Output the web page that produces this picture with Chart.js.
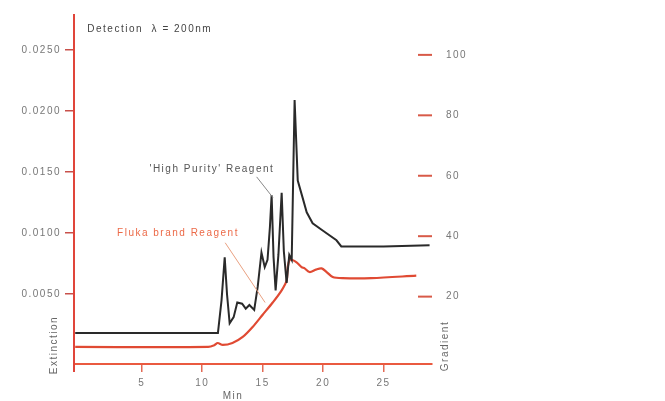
<!DOCTYPE html>
<html>
<head>
<meta charset="utf-8">
<script src="https://cdn.jsdelivr.net/npm/chart.js@4.4.1/dist/chart.umd.min.js"></script>
<style>
  html, body { margin: 0; padding: 0; background: #fff; overflow: hidden; }
  #wrap { width: 665px; height: 401px; }
</style>
</head>
<body>
<div id="wrap"><canvas id="grafico"></canvas></div>
<script>
const tempoPuro = [-0.5, 11.3, 11.6, 11.86, 12.05, 12.27, 12.6, 12.9, 13.3, 13.6, 13.9, 14.3, 14.59, 14.9, 15.17, 15.4, 15.6, 15.74, 15.9, 16.07, 16.3, 16.57, 16.75, 16.98, 17.2, 17.4, 17.64, 17.9, 18.3, 18.64, 19.13, 19.96, 21.1, 21.5, 25, 28.8];
const extPuro = [0.0018, 0.0018, 0.0045, 0.0080, 0.0050, 0.0026, 0.0031, 0.0043, 0.0042, 0.0038, 0.0041, 0.0037, 0.0056, 0.0084, 0.0072, 0.0078, 0.0105, 0.0131, 0.0080, 0.0053, 0.0082, 0.0133, 0.0085, 0.0059, 0.0082, 0.0078, 0.0209, 0.0143, 0.0129, 0.0117, 0.0108, 0.0102, 0.0094, 0.0089, 0.0089, 0.0090];

const tempoFluka = [-0.5, 10.5, 11.0, 11.28, 11.7, 12.5, 13.35, 14.17, 15.0, 15.83, 16.57, 16.98, 17.07, 17.23, 17.4, 17.8, 18.22, 18.47, 18.88, 19.4, 19.87, 20.29, 20.79, 21.6, 24, 27.7];
const extFluka = [0.00066, 0.00066, 0.0008, 0.00098, 0.00082, 0.00098, 0.00148, 0.0023, 0.0033, 0.0043, 0.0053, 0.0061, 0.0072, 0.0078, 0.0078, 0.0076, 0.0072, 0.0071, 0.0068, 0.0070, 0.0071, 0.0068, 0.0064, 0.0063, 0.0063, 0.0065];

const ticksTempo = [5, 10, 15, 20, 25];
const ticksExt = [0.005, 0.010, 0.015, 0.020, 0.025];
const ticksGrad = [20, 40, 60, 80, 100];

const fonte = '"Liberation Sans", Arial, sans-serif';
const vermelho = '#e04a33';
const eixoVermelho = '#e0453a';
const espaco = '1.5px';

function pares(xs, ys) {
    return xs.map((x, i) => ({ x: x, y: ys[i] }));
}

// Textos e linhas de chamada
const anotacoes = {
    id: 'anotacoes',
    beforeDraw(chart) {
        chart.ctx.letterSpacing = espaco;
    },
    afterDraw(chart) {
        const ctx = chart.ctx;
        const sx = chart.scales.x, sy = chart.scales.y, sg = chart.scales.y2;
        const area = chart.chartArea;
        ctx.save();
        ctx.letterSpacing = espaco;
        ctx.font = '10px ' + fonte;
        ctx.textBaseline = 'middle';

        ctx.fillStyle = '#444';
        ctx.textAlign = 'left';
        ctx.fillText('Detection  \u03bb = 200nm', sx.getPixelForValue(0.5), sy.getPixelForValue(0.0267));

        ctx.textAlign = 'center';
        ctx.fillStyle = '#555';
        ctx.fillText("'High Purity' Reagent", sx.getPixelForValue(10.8), sy.getPixelForValue(0.01525));
        ctx.fillStyle = '#ec6a48';
        ctx.fillText('Fluka brand Reagent', sx.getPixelForValue(8.0), sy.getPixelForValue(0.0100));

        ctx.lineWidth = 1;
        ctx.strokeStyle = '#888';
        ctx.beginPath();
        ctx.moveTo(sx.getPixelForValue(14.5), sy.getPixelForValue(0.0146));
        ctx.lineTo(sx.getPixelForValue(15.85), sy.getPixelForValue(0.0129));
        ctx.stroke();
        ctx.strokeStyle = '#e9a080';
        ctx.beginPath();
        ctx.moveTo(sx.getPixelForValue(11.9), sy.getPixelForValue(0.0092));
        ctx.lineTo(sx.getPixelForValue(15.2), sy.getPixelForValue(0.0043));
        ctx.stroke();

        // marcas do eixo de gradiente
        ctx.strokeStyle = '#d85a48';
        ctx.lineWidth = 2;
        ticksGrad.forEach(v => {
            const py = sg.getPixelForValue(v);
            ctx.beginPath();
            ctx.moveTo(area.right - 14, py);
            ctx.lineTo(area.right, py);
            ctx.stroke();
        });

        // prolongamento do eixo esquerdo
        ctx.strokeStyle = eixoVermelho;
        ctx.beginPath();
        ctx.moveTo(area.left, area.bottom);
        ctx.lineTo(area.left, area.bottom + 8);
        ctx.stroke();

        // titulos dos eixos
        ctx.fillStyle = '#666';
        ctx.textAlign = 'center';
        ctx.fillText('Min', area.left + 159, area.bottom + 32);
        ctx.save();
        ctx.translate(area.left - 20, area.bottom - 19);
        ctx.rotate(-Math.PI / 2);
        ctx.fillText('Extinction', 0, 0);
        ctx.restore();
        ctx.save();
        ctx.translate(area.right + 13, area.bottom - 18);
        ctx.rotate(-Math.PI / 2);
        ctx.fillText('Gradient', 0, 0);
        ctx.restore();
        ctx.restore();
    }
};

new Chart(document.getElementById('grafico'), {
    type: 'line',
    data: {
        datasets: [{
            label: 'High Purity Reagent',
            data: pares(tempoPuro, extPuro),
            borderColor: '#2a2a2a',
            borderWidth: 2,
            pointRadius: 0,
            tension: 0,
            yAxisID: 'y'
        }, {
            label: 'Fluka brand Reagent',
            data: pares(tempoFluka, extFluka),
            borderColor: vermelho,
            borderWidth: 2.2,
            pointRadius: 0,
            tension: 0.3,
            yAxisID: 'y'
        }]
    },
    options: {
        responsive: true,
        maintainAspectRatio: false,
        animation: false,
        layout: { padding: { top: 15, left: 0, right: 0, bottom: 0 } },
        plugins: {
            legend: { display: false },
            tooltip: { enabled: false }
        },
        scales: {
            x: {
                type: 'linear',
                position: 'bottom',
                min: -0.6,
                max: 29,
                afterFit: function(s) { s.height = 37; },
                afterBuildTicks: function(s) { s.ticks = ticksTempo.map(v => ({ value: v })); },
                border: { color: '#ea5a40', width: 2 },
                grid: { drawOnChartArea: false, color: '#e36a55', lineWidth: 1.5, tickLength: 8 },
                ticks: { color: '#777', font: { family: fonte, size: 10 }, padding: 5, maxRotation: 0, autoSkip: false }
            },
            y: {
                position: 'left',
                min: -0.00074,
                max: 0.02787,
                afterFit: function(s) { s.width = 74; },
                afterBuildTicks: function(s) { s.ticks = ticksExt.map(v => ({ value: v })); },
                border: { color: eixoVermelho, width: 2 },
                grid: { drawOnChartArea: false, color: '#c8504a', lineWidth: 1.5, tickLength: 9 },
                ticks: {
                    color: '#777',
                    font: { family: fonte, size: 10 },
                    padding: 4,
                    autoSkip: false,
                    callback: function(v) { return v.toFixed(4); }
                }
            },
            y2: {
                position: 'right',
                min: -2.3,
                max: 113.2,
                afterFit: function(s) { s.width = 233; },
                afterBuildTicks: function(s) { s.ticks = ticksGrad.map(v => ({ value: v })); },
                border: { display: false },
                grid: { display: false },
                ticks: { color: '#777', font: { family: fonte, size: 10 }, padding: 6, autoSkip: false }
            }
        }
    },
    plugins: [anotacoes]
});
</script>
</body>
</html>
